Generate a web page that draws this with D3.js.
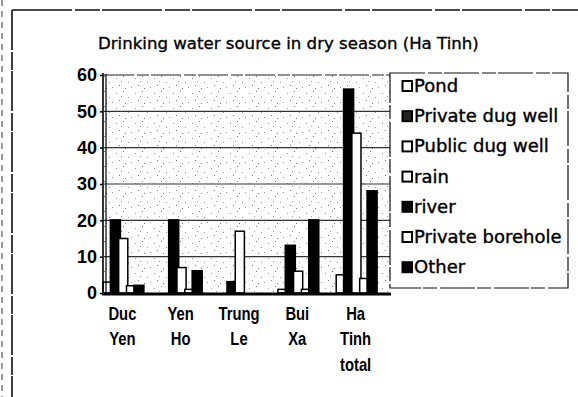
<!DOCTYPE html>
<html>
<head>
<meta charset="utf-8">
<script src="https://cdn.jsdelivr.net/npm/d3@7"></script>
<style>
  body { margin: 0; background: #fff; }
  svg { display: block; }
</style>
</head>
<body>
<svg id="chart" width="578" height="397"></svg>
<script>
// Village categories (multi-line tick labels) and the seven water sources
const categories = ["Duc Yen", "Yen Ho", "Trung Le", "Bui Xa", "Ha Tinh total"];
const categoryLines = [["Duc", "Yen"], ["Yen", "Ho"], ["Trung", "Le"], ["Bui", "Xa"], ["Ha", "Tinh", "total"]];
const seriesNames = ["Pond", "Private dug well", "Public dug well", "rain", "river", "Private borehole", "Other"];

// Number of households per source, one value per category
const pond            = [3, 0, 0, 1, 5];
const privateDugWell  = [20, 20, 3, 13, 56];
const publicDugWell   = [15, 7, 17, 6, 44];
const rain            = [2, 1, 0, 1, 4];
const river           = [2, 6, 0, 20, 28];
const privateBorehole = [0, 0, 0, 0, 0];
const other           = [0, 0, 0, 0, 0];

const yTicks = [0, 10, 20, 30, 40, 50, 60];
const titleText = "Drinking water source in dry season (Ha Tinh)";

const seriesValues = [pond, privateDugWell, publicDugWell, rain, river, privateBorehole, other];
const seriesDark = [false, true, false, false, true, false, true];

const svg = d3.select("#chart");
const font = "'DejaVu Sans', sans-serif";

// Page frame lines
svg.append("line").attr("x1", 12).attr("x2", 12).attr("y1", 10).attr("y2", 397)
  .attr("stroke", "#111").attr("stroke-width", 1.6).attr("stroke-dasharray", "40 2 18 1");
svg.append("line").attr("x1", 12).attr("x2", 578).attr("y1", 10).attr("y2", 10)
  .attr("stroke", "#111").attr("stroke-width", 1.3).attr("stroke-dasharray", "60 3 25 2");
svg.append("line").attr("x1", 2).attr("x2", 2).attr("y1", 0).attr("y2", 397)
  .attr("stroke", "#333").attr("stroke-width", 1).attr("stroke-dasharray", "6 5");

// Speckled plot-area fill
const defs = svg.append("defs");
const pat = defs.append("pattern").attr("id", "speckle")
  .attr("patternUnits", "userSpaceOnUse").attr("width", 19).attr("height", 15);
[[2, 3], [9, 1], [14, 7], [5, 10], [17, 12], [11, 13], [7, 6]].forEach(([px, py], i) => {
  pat.append("rect").attr("x", px).attr("y", py).attr("width", 1).attr("height", 1)
    .attr("fill", i % 2 ? "#777" : "#999");
});

const plotL = 104, plotR = 390;
const x = d3.scaleBand().domain(categories).range([103, 391]).paddingInner(0.06).paddingOuter(0);
const xs = d3.scaleBand().domain(seriesNames).range([0, x.bandwidth()]).padding(0);
const barW = xs.bandwidth() + 1.3;
const y = d3.scaleLinear().domain([0, 60]).range([293, 75]);

svg.append("rect").attr("x", plotL).attr("y", y(60)).attr("width", plotR - plotL)
  .attr("height", y(0) - y(60)).attr("fill", "url(#speckle)");

// Grid lines
svg.append("g").selectAll("line").data(yTicks.filter(t => t > 0 && t < 60)).join("line")
  .attr("x1", plotL).attr("x2", plotR)
  .attr("y1", d => y(d)).attr("y2", d => y(d))
  .attr("stroke", "#333").attr("stroke-width", 1.2);
svg.append("line").attr("x1", plotL).attr("x2", plotR).attr("y1", y(60)).attr("y2", y(60))
  .attr("stroke", "#222").attr("stroke-width", 1.2).attr("stroke-dasharray", "30 3 12 2");

// Bars, drawn series by series so later sources overlap earlier ones
const barsG = svg.append("g");
seriesNames.forEach((name, si) => {
  const vals = seriesValues[si];
  barsG.append("g").selectAll("rect").data(categories.map((c, ci) => ({ c, v: vals[ci] })))
    .join("rect")
    .filter(d => d.v > 0)
    .attr("x", d => x(d.c) + xs(name))
    .attr("y", d => y(d.v))
    .attr("width", barW)
    .attr("height", d => y(0) - y(d.v))
    .attr("fill", seriesDark[si] ? "#000" : "#fff")
    .attr("stroke", "#000").attr("stroke-width", seriesDark[si] ? 2.4 : 1.5);
});

// Y axis
const yAxis = svg.append("g").attr("transform", `translate(${plotL - 1},0)`)
  .call(d3.axisLeft(y).tickValues(yTicks).tickSize(3).tickPadding(3));
yAxis.select(".domain").remove();
yAxis.selectAll(".tick line").attr("stroke", "#000").attr("stroke-width", 1.5);
yAxis.selectAll(".tick text")
  .attr("font-family", "'Liberation Sans', Arial, sans-serif")
  .attr("font-weight", "bold").attr("font-size", 18).attr("fill", "#000");
svg.append("line").attr("x1", plotL - 1).attr("x2", plotL - 1).attr("y1", y(60) - 2).attr("y2", y(0) + 2)
  .attr("stroke", "#000").attr("stroke-width", 1.6);
svg.append("line").attr("x1", plotL + 2).attr("x2", plotL + 2).attr("y1", y(60) - 1).attr("y2", y(0))
  .attr("stroke", "#000").attr("stroke-width", 1.2);

// X axis with multi-line, condensed labels
const xAxis = svg.append("g").attr("transform", `translate(0,${y(0)})`)
  .call(d3.axisBottom(x).tickSize(0));
xAxis.select(".domain").remove();
xAxis.selectAll(".tick text").each(function (d, i) {
  const t = d3.select(this).text(null).attr("dy", null).attr("y", 0)
    .attr("transform", "translate(-8,0) scale(0.8,1)")
    .attr("font-family", "'Liberation Sans', Arial, sans-serif")
    .attr("font-weight", "bold").attr("font-size", 18.5).attr("fill", "#000");
  categoryLines[i].forEach((line, li) => {
    t.append("tspan").attr("x", 0).attr("y", 27 + li * 25.5).text(line);
  });
});
svg.append("line").attr("x1", plotL - 2).attr("x2", plotR + 1).attr("y1", y(0) + 1).attr("y2", y(0) + 1)
  .attr("stroke", "#000").attr("stroke-width", 3);

// Title
svg.append("text").attr("x", 98).attr("y", 49)
  .attr("font-family", font).attr("font-size", 16.6).attr("fill", "#000")
  .attr("stroke", "#000").attr("stroke-width", 0.35)
  .text(titleText);

// Legend
const lg = svg.append("g");
lg.append("rect").attr("x", 390).attr("y", 73).attr("width", 178).attr("height", 215)
  .attr("fill", "#fff").attr("stroke", "#111").attr("stroke-width", 1.2)
  .attr("stroke-dasharray", "35 3 14 2");
const item = lg.selectAll("g.item").data(seriesNames).join("g").attr("class", "item")
  .attr("transform", (d, i) => `translate(402,${92 + i * 30.2})`);
item.append("rect").attr("x", 0.5).attr("y", -11).attr("width", 9.5).attr("height", 10)
  .attr("fill", (d, i) => seriesDark[i] ? (i === 1 ? "#222" : "#000") : "#fff")
  .attr("stroke", "#000").attr("stroke-width", 2);
item.append("text").attr("x", 12).attr("y", 0)
  .attr("font-family", font).attr("font-size", 18).attr("fill", "#000")
  .attr("stroke", "#000").attr("stroke-width", 0.4)
  .text(d => d);
</script>
</body>
</html>
